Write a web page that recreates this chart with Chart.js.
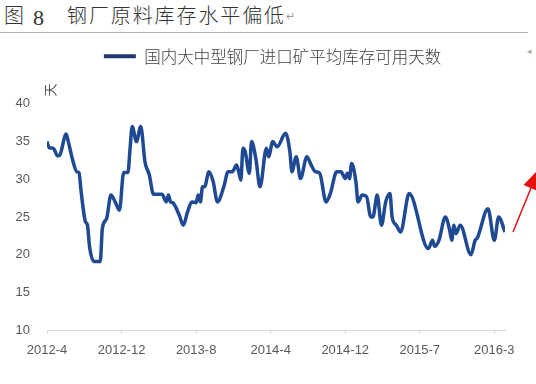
<!DOCTYPE html>
<html><head><meta charset="utf-8">
<script src="https://cdn.jsdelivr.net/npm/chart.js@4.4.1/dist/chart.umd.min.js"></script>
<style>
html,body{margin:0;padding:0;background:#fff;width:536px;height:384px;overflow:hidden;}
#wrap{position:relative;width:536px;height:384px;}
canvas{position:absolute;left:0;top:0;}
.t{position:absolute;font-family:"Noto Sans CJK SC";font-weight:300;font-size:20px;line-height:20px;color:#333;white-space:nowrap;}
</style></head>
<body><div id="wrap">
<div class="t" style="left:4px;top:5px">图</div>
<div class="t" style="left:33px;top:7px;font-family:'Liberation Serif';font-weight:400;font-size:22px;line-height:22px">8</div>
<div class="t" style="left:67px;top:5px;letter-spacing:1.9px">钢厂原料库存水平偏低</div>
<div class="t" style="left:286px;top:10px;font-size:11px;line-height:11px;color:#999">↵</div>
<div style="position:absolute;left:0;top:32px;width:528px;height:1px;background:#b0b0b0"></div>
<div class="t" style="left:527px;top:46px;font-size:9px;line-height:9px;color:#aaa">◂</div>
<canvas id="c" width="536" height="384"></canvas>
</div>
<script>
const seriesName = '国内大中型钢厂进口矿平均库存可用天数';
const unitLabel = '天';
const tickLabels = ['2012-4','2012-12','2013-8','2014-4','2014-12','2015-7','2016-3'];
const tickWeeks  = [0,35,70,105,140,175,210];
const weeks = [0,1,3,5,6,9,10,12,14,15,16,18,19,20,22,25,26,28,30,32,34,36,38,39,40,42,44,46,48,50,
  54,56,57,58,59,62,64,66,68,70,71,72,73,74,76,78,80,83,85,87,89,90,91,92,93,95,96,98,100,103,
  104,106,108,112,114,115,117,119,122,124,126,128,131,133,136,138,140,141,142,143,145,146,148,150,152,
  153,155,157,159,161,162,164,166,170,179,181,182,184,187,189,190,191,192,194,199,201,202,207,210,212,215];
const days = [35.0,34.2,34.1,33.1,33.2,36.0,35.0,32.6,31.0,30.9,28.4,24.4,23.9,21.0,19.1,19.1,23.5,24.8,27.9,27.0,
  25.9,30.9,30.9,34.1,37.0,35.0,37.0,32.3,30.6,28.0,
  28.0,27.0,27.9,27.0,26.9,25.3,23.9,25.7,27.0,26.9,27.9,27.0,29.0,29.0,31.0,29.7,27.0,29.0,31.0,31.0,
  31.9,31.0,29.9,34.1,33.7,30.8,35.0,32.8,29.0,34.1,
  33.0,35.0,34.3,36.1,33.7,31.0,33.0,30.1,33.0,31.9,31.0,30.8,27.0,28.1,31.0,31.0,30.1,30.8,30.1,32.1,
  29.7,27.0,27.9,27.7,25.0,
  25.0,27.9,23.9,27.0,28.1,25.0,23.9,23.0,28.1,20.8,21.9,21.1,21.9,25.0,23.3,21.9,23.9,22.8,23.9,20.0,
  21.9,22.2,26.1,21.9,25.0,23.0];

const deco = {
  id: 'deco',
  afterLayout(chart) {
    if (chart.legend) { chart.legend.left += 20; chart.legend.right += 20; }
  },
  afterDraw(chart) {
    const {ctx, chartArea, scales} = chart;
    ctx.save();
    ctx.font = '13px "Noto Sans CJK SC"';
    ctx.fillStyle = '#595959';
    ctx.translate(chartArea.left + 3, scales.y.getPixelForValue(40) - 14);
    ctx.rotate(-Math.PI / 2);
    ctx.textAlign = 'center';
    ctx.textBaseline = 'middle';
    ctx.fillText(unitLabel, 0, 0);
    ctx.restore();
    // red annotation arrow
    ctx.save();
    ctx.strokeStyle = '#e51010';
    ctx.fillStyle = '#e51010';
    ctx.lineWidth = 1.5;
    ctx.beginPath();
    ctx.moveTo(513, 232);
    ctx.lineTo(531, 188);
    ctx.stroke();
    ctx.beginPath();
    ctx.moveTo(539, 169);
    ctx.lineTo(538, 191);
    ctx.lineTo(523.5, 185);
    ctx.closePath();
    ctx.fill();
    ctx.restore();
  }
};

new Chart(document.getElementById('c'), {
  type: 'line',
  data: {
    datasets: [{
      label: seriesName,
      data: days.map((v, i) => ({x: weeks[i], y: v})),
      borderColor: '#1f4a93',
      backgroundColor: '#1f4a93',
      borderWidth: 3.5,
      pointRadius: 0,
      cubicInterpolationMode: 'monotone',
      fill: false
    }]
  },
  options: {
    responsive: false,
    animation: false,
    devicePixelRatio: 1,
    layout: {padding: {top: 38, right: 31, left: 0, bottom: 0}},
    plugins: {
      legend: {
        display: true,
        position: 'top',
        labels: {
          usePointStyle: true,
          pointStyle: 'line',
          pointStyleWidth: 32,
          color: '#404040',
          font: {family: '"Noto Sans CJK SC"', size: 16.5, weight: 300},
          padding: 10,
          generateLabels: chart => Chart.defaults.plugins.legend.labels.generateLabels(chart)
            .map(l => Object.assign(l, {strokeStyle: '#1f3a70', fillStyle: '#1f3a70', lineWidth: 4}))
        }
      },
      subtitle: {display: true, text: ' ', weight: 500, font: {size: 12}, padding: {top: 0, bottom: 15}},
      tooltip: {enabled: false}
    },
    scales: {
      x: {
        type: 'linear',
        min: 0,
        max: 215,
        afterFit: s => { s.height = 54; },
        afterBuildTicks: s => { s.ticks = tickWeeks.map(v => ({value: v})); },
        ticks: {
          autoSkip: false,
          maxRotation: 0,
          padding: 9,
          color: '#595959',
          font: {family: '"Liberation Sans"', size: 13},
          callback: (v, i) => tickLabels[i]
        },
        grid: {display: true, drawOnChartArea: false, drawTicks: true, tickLength: 4, color: '#d9d9d9'},
        border: {display: true, color: '#d9d9d9'}
      },
      y: {
        min: 10,
        max: 40,
        afterFit: s => { s.width = 47; },
        ticks: {
          stepSize: 5,
          padding: 17,
          color: '#595959',
          font: {family: '"Liberation Sans"', size: 13}
        },
        grid: {display: false, drawTicks: false},
        border: {display: false}
      }
    }
  },
  plugins: [deco]
});
</script>
</body></html>
